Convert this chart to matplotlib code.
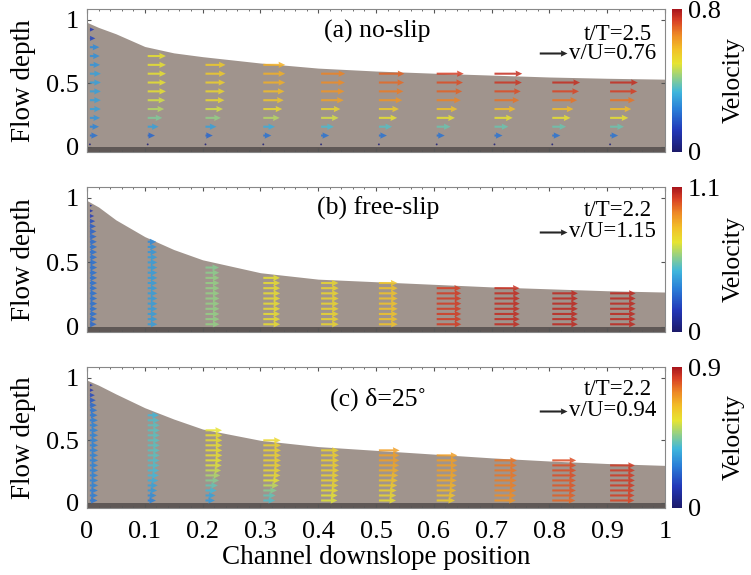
import numpy as np
import matplotlib
matplotlib.use("Agg")
import matplotlib.pyplot as plt
from matplotlib.colors import LinearSegmentedColormap, Normalize
from matplotlib.ticker import MultipleLocator
import matplotlib.cm as cm

plt.rcParams['font.family'] = ['Liberation Serif', 'DejaVu Serif']

# ---------------- data ----------------
x_surf = [0.0, 0.02, 0.05, 0.1, 0.15, 0.2, 0.3, 0.4, 0.5, 0.6, 0.7, 0.8, 0.9, 1.0]
h_a = [0.98, 0.94, 0.89, 0.79, 0.74, 0.71, 0.66, 0.62, 0.597, 0.58, 0.565, 0.55, 0.54, 0.533]
h_b = [0.98, 0.93, 0.83, 0.70, 0.60, 0.52, 0.42, 0.37, 0.35, 0.33, 0.31, 0.295, 0.28, 0.27]
h_c = [0.98, 0.94, 0.87, 0.76, 0.67, 0.59, 0.50, 0.45, 0.42, 0.39, 0.36, 0.335, 0.315, 0.30]

col_x = [0.005, 0.105, 0.205, 0.305, 0.405, 0.505, 0.605, 0.705, 0.805, 0.905]

# velocity of each arrow in a column, listed from bed upward
vel_a = [
    [0.02, 0.22, 0.25, 0.28, 0.30, 0.30, 0.30, 0.30, 0.30, 0.28, 0.27, 0.26, 0.15, 0.12],
    [0.02, 0.20, 0.30, 0.40, 0.45, 0.48, 0.50, 0.50, 0.50, 0.50, 0.50],
    [0.02, 0.20, 0.30, 0.42, 0.48, 0.52, 0.53, 0.54, 0.55, 0.55],
    [0.02, 0.22, 0.32, 0.45, 0.52, 0.56, 0.58, 0.60, 0.60, 0.60],
    [0.02, 0.22, 0.35, 0.48, 0.53, 0.62, 0.64, 0.65, 0.66],
    [0.02, 0.22, 0.36, 0.50, 0.55, 0.64, 0.67, 0.69, 0.70],
    [0.02, 0.22, 0.38, 0.50, 0.57, 0.66, 0.70, 0.72, 0.74],
    [0.02, 0.22, 0.38, 0.50, 0.58, 0.68, 0.72, 0.75, 0.76],
    [0.02, 0.22, 0.38, 0.50, 0.58, 0.68, 0.73, 0.76],
    [0.02, 0.22, 0.38, 0.50, 0.58, 0.68, 0.74, 0.76],
]
vel_b = [
    [0.28, 0.29, 0.30, 0.30, 0.30, 0.30, 0.30, 0.30, 0.30, 0.30, 0.30, 0.30,
     0.30, 0.30, 0.30, 0.30, 0.29, 0.28, 0.27, 0.25, 0.22, 0.18, 0.14, 0.10],
    [0.40, 0.40, 0.40, 0.40, 0.40, 0.40, 0.40, 0.40, 0.40, 0.40, 0.40, 0.40,
     0.40, 0.40, 0.39, 0.38, 0.36],
    [0.58, 0.58, 0.58, 0.58, 0.58, 0.58, 0.58, 0.58, 0.58, 0.58, 0.57, 0.56],
    [0.70, 0.70, 0.70, 0.70, 0.70, 0.70, 0.70, 0.70, 0.70, 0.69],
    [0.73, 0.73, 0.73, 0.73, 0.73, 0.73, 0.73, 0.73, 0.72],
    [0.78, 0.78, 0.78, 0.78, 0.78, 0.78, 0.78, 0.78, 0.77],
    [1.02, 1.02, 1.02, 1.02, 1.02, 1.02, 1.02, 1.01],
    [1.05, 1.05, 1.05, 1.05, 1.05, 1.05, 1.05, 1.04],
    [1.06, 1.06, 1.06, 1.06, 1.06, 1.06, 1.06],
    [1.06, 1.06, 1.06, 1.06, 1.06, 1.06, 1.06],
]
vel_c = [
    [0.26, 0.27, 0.27, 0.28, 0.28, 0.28, 0.28, 0.28, 0.28, 0.28, 0.28, 0.28,
     0.28, 0.28, 0.28, 0.28, 0.27, 0.26, 0.25, 0.23, 0.20, 0.17, 0.13, 0.10],
    [0.28, 0.30, 0.32, 0.34, 0.36, 0.38, 0.39, 0.40, 0.40, 0.41, 0.41, 0.41,
     0.41, 0.41, 0.41, 0.41, 0.40, 0.38],
    [0.32, 0.34, 0.38, 0.42, 0.46, 0.50, 0.53, 0.55, 0.56, 0.57, 0.57, 0.57,
     0.57, 0.57, 0.56],
    [0.40, 0.42, 0.46, 0.52, 0.56, 0.58, 0.59, 0.60, 0.60, 0.60, 0.60, 0.60, 0.59],
    [0.55, 0.56, 0.58, 0.59, 0.60, 0.60, 0.61, 0.61, 0.61, 0.61, 0.60],
    [0.58, 0.59, 0.60, 0.62, 0.64, 0.66, 0.68, 0.69, 0.70, 0.70, 0.70],
    [0.62, 0.64, 0.66, 0.67, 0.68, 0.69, 0.70, 0.70, 0.70, 0.70],
    [0.72, 0.73, 0.74, 0.75, 0.75, 0.76, 0.76, 0.76, 0.76],
    [0.78, 0.79, 0.80, 0.80, 0.80, 0.81, 0.81, 0.81, 0.81],
    [0.82, 0.83, 0.83, 0.84, 0.84, 0.84, 0.84, 0.84],
]

# arrow sampling grid (bed offset, vertical spacing) per panel
grid_a = (0.02, 0.0695)
grid_b = (0.02, 0.04)
grid_c = (0.02, 0.04)

titles = ["(a) no-slip", "(b) free-slip", "(c) δ=25˚"]
times = ["t/T=2.5", "t/T=2.2", "t/T=2.2"]
v_ref = [0.76, 1.15, 0.94]
v_max = [0.8, 1.1, 0.9]
cbar_labels = [["0", "0.8"], ["0", "1.1"], ["0", "0.9"]]
xticks = [0, 0.1, 0.2, 0.3, 0.4, 0.5, 0.6, 0.7, 0.8, 0.9, 1.0]
xticklabels = ["0", "0.1", "0.2", "0.3", "0.4", "0.5", "0.6", "0.7", "0.8", "0.9", "1"]
yticks = [0, 0.5, 1]
yticklabels = ["0", "0.5", "1"]

# ---------------- style ----------------
cmap = LinearSegmentedColormap.from_list("vel", [
    (0.00, "#1c1a6a"), (0.15, "#2237b8"), (0.30, "#2a7fd8"), (0.42, "#3fb6dc"),
    (0.52, "#8fcf8a"), (0.62, "#e6e432"), (0.72, "#f2c028"), (0.82, "#ee8a26"),
    (0.92, "#d84025"), (1.00, "#a8151c")])

fig = plt.figure(figsize=(7.51, 5.75), dpi=100)
W, H = 751, 575
left, right = 87 / W, 665 / W
panels_px = [(9, 152), (187, 332), (367, 508)]
fill_col = "#a0948d"
bed_col = "#5f5856"

surfs = [h_a, h_b, h_c]
vels = [vel_a, vel_b, vel_c]
grids = [grid_a, grid_b, grid_c]
title_y = [0.84, 0.855, 0.77]
time_y = [0.82, 0.84, 0.84]
key_y = [0.69, 0.69, 0.69]

arrow_len_x = 0.048  # reference arrow length in x units
FS_TICK = 19
FS_LAB = 19.5
FS_TITLE = 18.5
FS_NOTE = 16.5

for i in range(3):
    top, bot = panels_px[i]
    ax = fig.add_axes([left, 1 - bot / H, right - left, (bot - top) / H])
    ax.set_xlim(0, 1)
    ax.set_ylim(-0.04, 1.085)
    ax.fill_between(x_surf, 0, surfs[i], color=fill_col, lw=0, zorder=1)
    ax.axhspan(-0.04, 0.0, color=bed_col, lw=0, zorder=1)

    z0, dz = grids[i]
    X, Y, U, C = [], [], [], []
    for xc, col in zip(col_x, vels[i]):
        for k, v in enumerate(col):
            X.append(xc)
            Y.append(z0 + dz * k)
            U.append(v)
            C.append(v)
    X = np.array(X); Y = np.array(Y); U = np.array(U); C = np.array(C)
    norm = Normalize(0, v_max[i])
    scale = v_ref[i] / arrow_len_x
    Q = ax.quiver(X, Y, U, np.zeros_like(U), C, cmap=cmap, norm=norm,
                  angles='xy', scale_units='x', scale=scale,
                  width=0.0036, headwidth=3.0, headlength=3.2, headaxislength=3.0,
                  alpha=0.85, zorder=3)
    ax.quiverkey(Q, 0.83, key_y[i], v_ref[i], f"v/U={v_ref[i]:.2f}",
                 labelpos='E', coordinates='axes', color='k', labelsep=0.02,
                 fontproperties={'size': FS_NOTE, 'family': 'Liberation Serif'})
    ax.text(0.978, time_y[i], times[i], transform=ax.transAxes, ha='right',
            va='center', fontsize=FS_NOTE)
    ax.text(0.503, title_y[i], titles[i], transform=ax.transAxes, ha='center',
            va='center', fontsize=FS_TITLE)

    ax.set_xticks(xticks)
    ax.xaxis.set_minor_locator(MultipleLocator(0.02))
    ax.set_yticks(yticks)
    ax.set_yticklabels(yticklabels, fontsize=FS_TICK)
    ax.tick_params(direction='in', top=True, right=True, length=3, color='#555555')
    ax.tick_params(which='minor', direction='in', top=True, bottom=True, length=1.5,
                   color='#555555')
    ax.tick_params(axis='y', pad=6)
    for s in ax.spines.values():
        s.set_color('#888888')
        s.set_linewidth(0.8)
    if i < 2:
        ax.set_xticklabels([])
    else:
        ax.set_xticklabels(xticklabels, fontsize=FS_TICK)
        ax.tick_params(axis='x', pad=9)
        ax.set_xlabel("Channel downslope position", fontsize=FS_LAB, labelpad=2)
    ax.set_ylabel("Flow depth", fontsize=FS_LAB)
    ax.yaxis.set_label_coords(-0.088, 0.5)

    cax = fig.add_axes([672 / W, 1 - bot / H, 10 / W, (bot - top) / H])
    sm = cm.ScalarMappable(norm=norm, cmap=cmap)
    cb = fig.colorbar(sm, cax=cax, ticks=[0, v_max[i]])
    cb.ax.set_yticklabels(cbar_labels[i], fontsize=FS_TICK)
    cb.ax.tick_params(length=0, pad=4)
    cb.outline.set_visible(False)
    fig.text(734 / W, 1 - (top + bot) / 2 / H, "Velocity", rotation=90,
             ha='center', va='center', fontsize=18.5)

fig.savefig("out.png", dpi=100)
